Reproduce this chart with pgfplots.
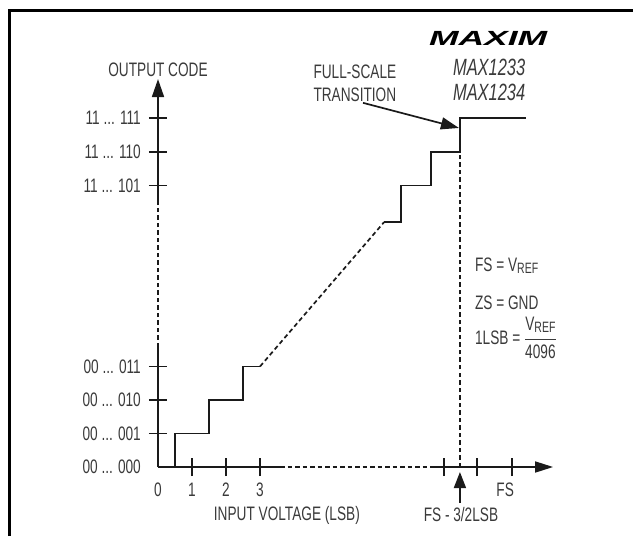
\documentclass[border=0pt]{standalone}
\usepackage{fontspec}
\setmainfont{Liberation Sans}[FakeStretch=0.70]
\usepackage{graphicx}
\usepackage{pgfplots}
\pgfplotsset{compat=1.18}
\usetikzlibrary{arrows.meta}
\definecolor{txt}{HTML}{3A3A3A}
\definecolor{ln}{HTML}{1A1A1A}
\newcommand{\sub}[1]{\raisebox{-1.8bp}{\fontsize{15bp}{15bp}\selectfont #1}}
\tikzset{lbl/.style={font=\fontsize{19.5bp}{21bp}\selectfont, text=txt, inner sep=0pt}}
\begin{document}
\begin{tikzpicture}
\begin{axis}[
  x=34bp, y=33.5bp,
  xmin=-4.647, xmax=13.97, ymin=-2.06, ymax=13.94,
  hide axis, clip=false,
]
\coordinate (SW) at (rel axis cs:0,0);
\coordinate (NE) at (rel axis cs:1,1);
% frame
\draw[line width=3bp, black] (axis cs:-4.37,-2.06) -- (axis cs:-4.37,13.64) -- (axis cs:13.97,13.64);
% y axis
\draw[line width=1.7bp, ln] (axis cs:0,0) -- (axis cs:0,3.58);
\draw[line width=1.7bp, ln, dash pattern=on 4.5bp off 3bp] (axis cs:0,3.58) -- (axis cs:0,7.82);
\draw[line width=1.7bp, ln, -{Triangle[length=18bp,width=12bp]}] (axis cs:0,7.82) -- (axis cs:0,11.58);
% x axis
\draw[line width=1.7bp, ln] (axis cs:0,0) -- (axis cs:3.59,0);
\draw[line width=1.7bp, ln, dash pattern=on 4.5bp off 3bp] (axis cs:3.59,0) -- (axis cs:8.06,0);
\draw[line width=1.7bp, ln, -{Triangle[length=18bp,width=11bp]}] (axis cs:8.06,0) -- (axis cs:11.62,0);
% y ticks
\pgfplotsinvokeforeach{1,2,3,8.4,9.4,10.42}{
  \draw[line width=1.7bp, ln] (axis cs:-0.265,#1) -- (axis cs:0.265,#1);
}
% x ticks
\pgfplotsinvokeforeach{1,2,3,8.41,9.38,10.41}{
  \draw[line width=1.7bp, ln] (axis cs:#1,-0.27) -- (axis cs:#1,0.27);
}
% staircase data
\addplot[line width=1.7bp, ln, mark=none] coordinates {
  (0,0) (0.5,0) (0.5,1) (1.5,1) (1.5,2) (2.5,2) (2.5,3) (3,3)};
\addplot[line width=1.7bp, ln, mark=none, dash pattern=on 4.5bp off 3bp] coordinates {
  (3,3) (6.65,7.31)};
\addplot[line width=1.7bp, ln, mark=none] coordinates {
  (6.65,7.31) (7.15,7.31) (7.15,8.4) (8.03,8.4) (8.03,9.4) (8.88,9.4) (8.88,10.42) (10.82,10.42)};
\addplot[line width=1.7bp, ln, mark=none, dash pattern=on 4.5bp off 3bp] coordinates {
  (8.88,0) (8.88,9.4)};
% FS - 3/2 LSB arrow
\draw[line width=1.7bp, ln, -{Triangle[length=16bp,width=12bp]}] (axis cs:8.88,-1.07) -- (axis cs:8.88,-0.15);
% full-scale arrow
\draw[line width=1.7bp, ln, -{Triangle[length=18bp,width=12bp]}] (axis cs:6.03,10.87) -- (axis cs:8.85,10.12);
% y labels
\node[lbl, anchor=east] at (axis cs:-0.5,0) {00 ... 000};
\node[lbl, anchor=east] at (axis cs:-0.5,1) {00 ... 001};
\node[lbl, anchor=east] at (axis cs:-0.5,2) {00 ... 010};
\node[lbl, anchor=east] at (axis cs:-0.5,3) {00 ... 011};
\node[lbl, anchor=east] at (axis cs:-0.5,8.4) {11 ... 101};
\node[lbl, anchor=east] at (axis cs:-0.5,9.4) {11 ... 110};
\node[lbl, anchor=east] at (axis cs:-0.5,10.42) {11 ... 111};
% x labels
\node[lbl] at (axis cs:0,-0.69) {0};
\node[lbl] at (axis cs:1,-0.69) {1};
\node[lbl] at (axis cs:2,-0.69) {2};
\node[lbl] at (axis cs:3,-0.69) {3};
\node[lbl] at (axis cs:10.21,-0.69) {FS};
\node[lbl] at (axis cs:3.79,-1.46) {INPUT VOLTAGE (LSB)};
\node[lbl] at (axis cs:8.91,-1.43) {FS - 3/2LSB};
\node[lbl] at (axis cs:0,11.85) {OUTPUT CODE};
\node[lbl] at (axis cs:5.79,11.79) {FULL-SCALE};
\node[lbl] at (axis cs:5.79,11.10) {TRANSITION};
% right annotations
\node[lbl, anchor=west] at (axis cs:9.32,6.0) {FS = V\sub{REF}};
\node[lbl, anchor=west] at (axis cs:9.32,4.9) {ZS = GND};
\node[lbl, anchor=west] at (axis cs:9.32,3.85) {1LSB = $\displaystyle\frac{\mbox{V\sub{REF}}}{\mbox{4096}}$};
% logo and part numbers
\node[inner sep=0pt, text=black] at (axis cs:9.71,12.78) {\scalebox{2.6}[1.05]{\fontsize{19.5bp}{20bp}\selectfont\bfseries\itshape MAXIM}};
\node[lbl, font=\fontsize{23.5bp}{24bp}\selectfont\itshape] at (axis cs:9.74,11.94) {MAX1233};
\node[lbl, font=\fontsize{23.5bp}{24bp}\selectfont\itshape] at (axis cs:9.74,11.19) {MAX1234};
\end{axis}
\pgfresetboundingbox
\path (SW) rectangle (NE);
\end{tikzpicture}
\end{document}
